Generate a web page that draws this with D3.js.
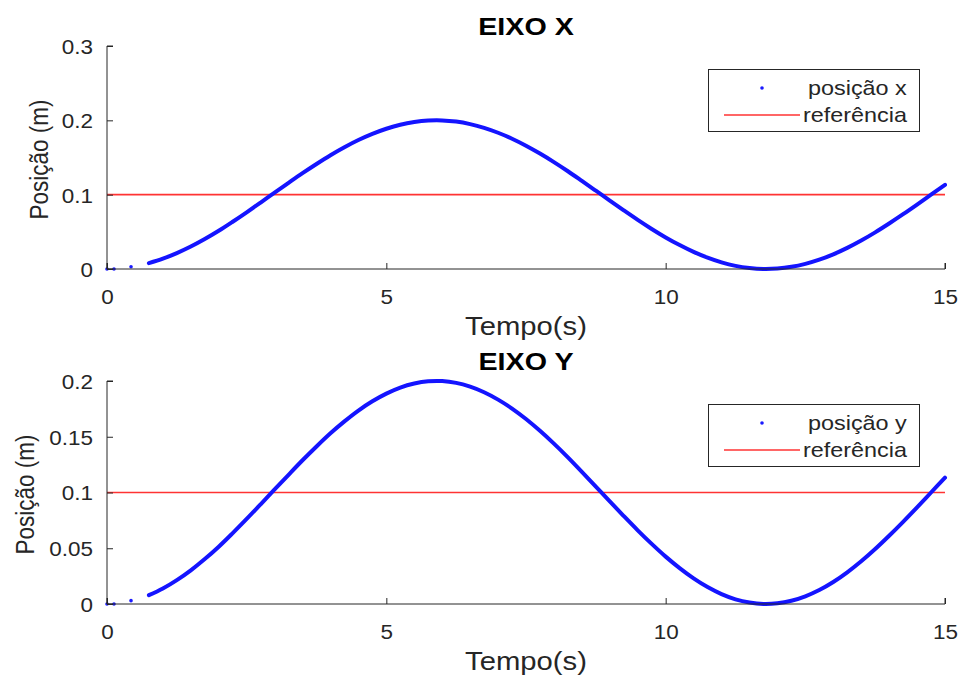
<!DOCTYPE html>
<html><head><meta charset="utf-8">
<script src="https://cdn.jsdelivr.net/npm/d3@7"></script>
<style>body{margin:0;background:#fff}svg{display:block}text{font-family:"Liberation Sans",Arial,Helvetica,sans-serif}</style>
</head><body><svg id="c" width="961" height="675"></svg>
<script>
// ---- data ----
const time = [0, 0.125, 0.43, 0.75, 1, 1.25, 1.5, 1.75, 2, 2.25, 2.5, 2.75, 3, 3.25, 3.5, 3.75, 4, 4.25, 4.5, 4.75, 5, 5.25, 5.5, 5.75, 6, 6.25, 6.5, 6.75, 7, 7.25, 7.5, 7.75, 8, 8.25, 8.5, 8.75, 9, 9.25, 9.5, 9.75, 10, 10.25, 10.5, 10.75, 11, 11.25, 11.5, 11.75, 12, 12.25, 12.5, 12.75, 13, 13.25, 13.5, 13.75, 14, 14.25, 14.5, 14.75, 15];
const posX = [0, 0, 0.003, 0.0079, 0.0139, 0.0214, 0.0302, 0.0403, 0.0514, 0.0636, 0.0763, 0.0894, 0.1027, 0.1159, 0.1289, 0.1413, 0.1531, 0.1638, 0.1735, 0.1818, 0.1887, 0.1941, 0.1977, 0.1997, 0.1999, 0.1983, 0.1949, 0.1899, 0.1833, 0.1753, 0.1659, 0.1553, 0.1438, 0.1315, 0.1185, 0.1053, 0.0920, 0.0789, 0.0661, 0.0539, 0.0425, 0.0322, 0.0230, 0.0152, 0.0089, 0.0042, 0.0013, 0.0000, 0.0006, 0.0029, 0.0069, 0.0125, 0.0197, 0.0284, 0.0383, 0.0493, 0.0612, 0.0737, 0.0867, 0.1000, 0.1133];
const posY = [0, 0, 0.003, 0.0079, 0.0139, 0.0214, 0.0302, 0.0403, 0.0514, 0.0636, 0.0763, 0.0894, 0.1027, 0.1159, 0.1289, 0.1413, 0.1531, 0.1638, 0.1735, 0.1818, 0.1887, 0.1941, 0.1977, 0.1997, 0.1999, 0.1983, 0.1949, 0.1899, 0.1833, 0.1753, 0.1659, 0.1553, 0.1438, 0.1315, 0.1185, 0.1053, 0.0920, 0.0789, 0.0661, 0.0539, 0.0425, 0.0322, 0.0230, 0.0152, 0.0089, 0.0042, 0.0013, 0.0000, 0.0006, 0.0029, 0.0069, 0.0125, 0.0197, 0.0284, 0.0383, 0.0493, 0.0612, 0.0737, 0.0867, 0.1000, 0.1133];
const reference = 0.1;
const xTicks = [0, 5, 10, 15];
const yTicksX = [0, 0.1, 0.2, 0.3];
const yTicksY = [0, 0.05, 0.1, 0.15, 0.2];
const titles = ["EIXO X", "EIXO Y"];
const legendLabels = [["posição x", "referência"], ["posição y", "referência"]];
const xLabel = "Tempo(s)";
const yLabel = "Posição (m)";

// ---- drawing ----
const svg = d3.select("#c");
const axisColor = "#262626";
const SX = 1.17;   // horizontal stretch for labels/titles/legend
const SXT = 1.07;  // horizontal stretch for tick labels
const panels = [
  {values: posX, yMax: 0.3, yTicks: yTicksX, top: 46, bottom: 269, title: titles[0], legend: legendLabels[0], legTop: 69, ylx: 48},
  {values: posY, yMax: 0.2, yTicks: yTicksY, top: 381, bottom: 604, title: titles[1], legend: legendLabels[1], legTop: 404, ylx: 34}
];
const left = 107, right = 945;

function stretchedText(parent, x, y, str, size, anchor) {
  return parent.append("text")
    .attr("transform", `translate(${x},${y}) scale(${SX},1)`)
    .attr("text-anchor", anchor).attr("font-size", size).attr("fill", axisColor).text(str);
}

panels.forEach(p => {
  const x = d3.scaleLinear().domain([0, 15]).range([left, right]);
  const y = d3.scaleLinear().domain([0, p.yMax]).range([p.bottom, p.top]);
  const g = svg.append("g");

  // reference line
  g.append("line").attr("x1", x(0)).attr("x2", x(15)).attr("y1", y(reference)).attr("y2", y(reference))
    .attr("stroke", "#ff0000").attr("stroke-width", 1.6).attr("stroke-opacity", 0.8);

  // data: isolated early samples as dots, dense part as a thick dotted trace
  const pts = time.map((t, i) => ({t, v: p.values[i]}));
  const dense = pts.filter(d => d.t >= 0.7);
  const sparse = pts.filter(d => d.t < 0.7);
  g.selectAll("circle.s").data(sparse).enter().append("circle")
    .attr("cx", d => x(d.t)).attr("cy", d => y(d.v)).attr("r", 1.8).attr("fill", "#1a1aff");
  g.append("path").datum(dense)
    .attr("d", d3.line().x(d => x(d.t)).y(d => y(d.v)).curve(d3.curveCatmullRom))
    .attr("fill", "none").attr("stroke", "#1414ff").attr("stroke-width", 4).attr("stroke-linecap", "round");

  // axes (box off, ticks inward)
  const xa = g.append("g").attr("transform", `translate(0,${p.bottom})`)
    .call(d3.axisTop(x).tickValues(xTicks).tickSize(6).tickFormat(d3.format("d")));
  xa.select(".domain").attr("d", `M${left},-6V0H${right}V-6`);
  xa.selectAll("text").attr("x", 0).attr("y", 0).attr("dy", 0)
    .attr("transform", `translate(0,35) scale(${SXT},1)`).attr("text-anchor", "middle")
    .attr("font-size", 21).attr("fill", axisColor);
  const ya = g.append("g").attr("transform", `translate(${left},0)`)
    .call(d3.axisRight(y).tickValues(p.yTicks).tickSize(6).tickFormat(d => d === 0 ? "0" : String(+d.toFixed(2))));
  ya.select(".domain").attr("d", `M6,${p.top}H0V${p.bottom}H6`);
  ya.selectAll("text").attr("x", 0).attr("y", 0).attr("dy", "0.35em")
    .attr("transform", `translate(-14,0) scale(${SXT},1)`).attr("text-anchor", "end")
    .attr("font-size", 21).attr("fill", axisColor);
  [xa, ya].forEach(a => { a.selectAll("line,path").attr("stroke", axisColor); a.attr("font-family", null); });

  // title and labels
  stretchedText(g, (left + right) / 2, p.top - 11, p.title, 24.5, "middle")
    .attr("font-weight", "bold").attr("fill", "#000");
  stretchedText(g, (left + right) / 2, p.bottom + 66, xLabel, 25, "middle");
  g.append("text").attr("transform", `translate(${p.ylx},${(p.top + p.bottom) / 2 + 2}) scale(${SX},1) rotate(-90)`)
    .attr("text-anchor", "middle").attr("font-size", 22.5).attr("fill", axisColor).text(yLabel);

  // legend
  const lx = 708, lw = 211, lh = 62, lt = p.legTop;
  const lg = g.append("g");
  lg.append("rect").attr("x", lx + 0.5).attr("y", lt + 0.5).attr("width", lw).attr("height", lh)
    .attr("fill", "#fff").attr("stroke", axisColor).attr("stroke-width", 1);
  lg.append("circle").attr("cx", 762).attr("cy", lt + 19).attr("r", 1.8).attr("fill", "#1a1aff");
  lg.append("line").attr("x1", 724).attr("x2", 800).attr("y1", lt + 46).attr("y2", lt + 46)
    .attr("stroke", "#ff0000").attr("stroke-width", 1.6).attr("stroke-opacity", 0.8);
  stretchedText(lg, 808, lt + 26, p.legend[0], 20, "start");
  stretchedText(lg, 803, lt + 53, p.legend[1], 20, "start");
});
</script></body></html>
